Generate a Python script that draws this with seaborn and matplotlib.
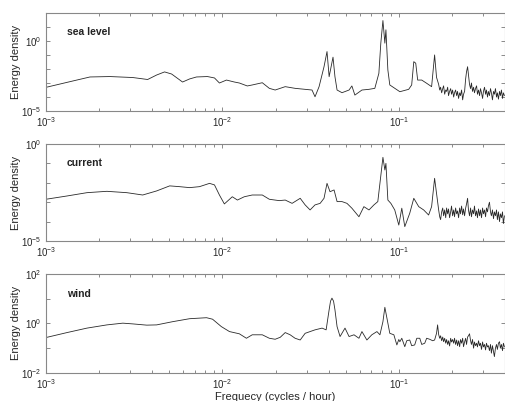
import numpy as np
import pandas as pd
import matplotlib
matplotlib.use("Agg")
import matplotlib.pyplot as plt
import matplotlib.ticker as mticker
import seaborn as sns

# values: log10 of frequency (cycles/hour) and log10 of energy density

# high-frequency tail, shared frequency grid for the three records
tail_logf = [-0.774, -0.768, -0.763, -0.757, -0.751, -0.746, -0.740, -0.734, -0.729, -0.723,
             -0.718, -0.712, -0.706, -0.701, -0.695, -0.689, -0.684, -0.678, -0.672, -0.667,
             -0.661, -0.655, -0.650, -0.644, -0.638, -0.633, -0.627, -0.621, -0.616, -0.610,
             -0.605, -0.599, -0.593, -0.588, -0.582, -0.576, -0.571, -0.565, -0.559, -0.554,
             -0.548, -0.542, -0.537, -0.531, -0.525, -0.520, -0.514, -0.508, -0.503, -0.497,
             -0.492, -0.486, -0.480, -0.475, -0.469, -0.463, -0.458, -0.452, -0.446, -0.441,
             -0.435, -0.429, -0.424, -0.418, -0.412, -0.407, -0.401]

sea_logf = [-2.994, -2.921, -2.836, -2.751, -2.638, -2.508, -2.424, -2.373, -2.328, -2.288,
            -2.226, -2.186, -2.147, -2.085, -2.045, -2.017, -1.977, -1.932, -1.904, -1.859,
            -1.831, -1.774, -1.734, -1.701, -1.644, -1.588, -1.531, -1.492, -1.475, -1.452,
            -1.424, -1.407, -1.395, -1.373, -1.362, -1.350, -1.322, -1.282, -1.266, -1.249,
            -1.209, -1.169, -1.136, -1.113, -1.102, -1.090, -1.079, -1.073, -1.062, -1.051,
            -1.023, -0.994, -0.944, -0.927, -0.915, -0.904, -0.893, -0.870, -0.842, -0.814,
            -0.797, -0.786]
sea_loge = [-3.29, -3.07, -2.82, -2.57, -2.54, -2.61, -2.75, -2.43, -2.21, -2.36,
            -2.93, -2.71, -2.57, -2.54, -2.64, -3.0, -2.79, -2.93, -3.0, -3.21,
            -3.14, -2.98, -3.38, -3.5, -3.26, -3.38, -3.45, -3.5, -3.98, -3.26,
            -1.84, -0.76, -2.55, -1.16, -2.55, -3.5, -3.69, -3.5, -3.21, -3.86,
            -3.5, -3.45, -3.38, -2.31, -0.16, 1.45, -0.16, 0.79, -2.07, -3.14,
            -3.38, -3.62, -3.45, -3.14, -1.48, -1.59, -2.79, -2.79, -3.02, -3.26,
            -1.0, -2.6]
sea_tail = [-3.1, -3.5, -3.3, -3.7, -3.4, -3.2, -3.8, -3.5, -3.6, -3.3,
            -3.9, -3.6, -3.4, -3.8, -3.5, -4.0, -3.7, -3.5, -3.9, -3.6,
            -4.1, -3.7, -3.9, -3.5, -4.2, -3.8, -3.6, -2.7, -2.2, -1.84,
            -2.4, -3.1, -3.4, -3.0, -3.6, -3.3, -3.7, -3.4, -3.2, -3.8,
            -3.5, -3.9, -3.4, -3.7, -4.1, -3.6, -3.3, -3.8, -3.5, -4.0,
            -3.6, -3.9, -3.4, -3.7, -4.2, -3.6, -3.8, -3.4, -4.0, -3.7,
            -4.15, -3.6, -3.9, -3.5, -4.1, -3.7, -3.9]

cur_logf = [-2.994, -2.881, -2.768, -2.655, -2.542, -2.452, -2.373, -2.299, -2.243, -2.186,
            -2.130, -2.073, -2.045, -2.017, -1.989, -1.944, -1.915, -1.876, -1.831, -1.774,
            -1.734, -1.678, -1.644, -1.605, -1.559, -1.531, -1.503, -1.475, -1.446, -1.424,
            -1.407, -1.390, -1.367, -1.350, -1.322, -1.294, -1.266, -1.226, -1.198, -1.169,
            -1.141, -1.119, -1.107, -1.090, -1.079, -1.073, -1.062, -1.045, -1.023, -1.000,
            -0.983, -0.966, -0.938, -0.915, -0.887, -0.859, -0.831, -0.814, -0.797]
cur_loge = [-2.84, -2.68, -2.51, -2.44, -2.51, -2.63, -2.42, -2.16, -2.20, -2.25,
            -2.20, -2.03, -2.11, -2.63, -3.09, -2.72, -2.89, -2.72, -2.63, -2.63,
            -2.85, -2.92, -2.89, -3.06, -2.80, -3.14, -3.40, -3.14, -3.06, -2.80,
            -2.03, -2.46, -2.37, -2.97, -2.97, -3.06, -3.31, -3.75, -3.23, -3.40,
            -3.14, -2.97, -2.03, -0.69, -1.34, -1.0, -2.89, -3.06, -3.40, -4.18,
            -3.31, -4.26, -3.57, -2.80, -3.23, -3.40, -3.66, -3.23, -1.77]
cur_tail = [-3.4, -3.75, -3.9, -3.5, -3.3, -3.7, -3.4, -3.8, -3.3, -3.6,
            -3.35, -3.8, -3.5, -3.2, -3.7, -3.4, -3.75, -3.3, -3.6, -3.45,
            -3.8, -3.3, -3.6, -3.2, -3.65, -3.35, -3.7, -3.3, -3.1, -2.8,
            -3.4, -3.7, -3.3, -3.75, -3.4, -3.6, -3.2, -3.7, -3.45, -3.8,
            -3.35, -3.7, -3.4, -3.8, -3.3, -3.6, -3.4, -3.75, -3.3, -3.5,
            -3.2, -3.0, -3.5, -3.7, -3.4, -3.85, -3.5, -3.7, -3.4, -3.9,
            -3.5, -4.0, -3.6, -3.8, -3.5, -4.1, -3.7]

wind_logf = [-2.994, -2.881, -2.768, -2.655, -2.565, -2.508, -2.429, -2.373, -2.282, -2.186,
             -2.090, -2.056, -2.006, -1.960, -1.904, -1.864, -1.831, -1.774, -1.734, -1.701,
             -1.672, -1.644, -1.616, -1.588, -1.559, -1.531, -1.503, -1.475, -1.435, -1.412,
             -1.395, -1.387, -1.379, -1.370, -1.362, -1.350, -1.333, -1.305, -1.282, -1.254,
             -1.226, -1.209, -1.181, -1.153, -1.124, -1.107, -1.090, -1.079, -1.062, -1.051,
             -1.028,
             -1.011, -1.000, -0.994, -0.983, -0.966, -0.955, -0.938, -0.927, -0.910, -0.898,
             -0.881, -0.870, -0.853, -0.842, -0.825, -0.808, -0.797, -0.786, -0.780]
wind_loge = [-0.56, -0.37, -0.19, -0.06, 0.01, -0.02, -0.07, -0.06, 0.07, 0.19,
             0.23, 0.17, -0.13, -0.33, -0.42, -0.60, -0.46, -0.46, -0.60, -0.64,
             -0.56, -0.37, -0.46, -0.60, -0.67, -0.40, -0.33, -0.26, -0.19, -0.26,
             0.55, 0.9, 1.02, 0.9, 0.55, -0.13, -0.53, -0.19, -0.53, -0.46,
             -0.60, -0.33, -0.67, -0.46, -0.33, -0.46, 0.07, 0.65, 0.01, -0.40,
             -0.46,
             -0.87, -0.65, -0.74, -0.6, -0.94, -0.7, -0.67, -0.9, -0.87, -0.6,
             -0.6, -0.85, -0.80, -0.6, -0.64, -0.7, -0.67, -0.4, -0.06]
wind_tail = [-0.45, -0.6, -0.5, -0.7, -0.55, -0.74, -0.6, -0.8, -0.65, -0.85,
             -0.7, -0.91, -0.6, -0.75, -0.65, -0.8, -0.6, -0.85, -0.67, -0.9,
             -0.7, -0.94, -0.65, -0.8, -0.6, -0.94, -0.75, -0.6, -0.85, -0.55,
             -0.5, -0.42, -0.7, -0.85, -0.65, -1.0, -0.75, -0.9, -0.8, -0.95,
             -0.7, -0.9, -0.8, -1.05, -0.75, -0.95, -0.85, -1.07, -0.8, -0.95,
             -0.9, -1.1, -0.85, -1.2, -0.9, -1.15, -1.34, -1.0, -0.85, -1.05,
             -0.8, -0.74, -1.0, -0.85, -1.1, -0.8, -0.95]

panel_names = ["sea level", "current", "wind"]
y_limits = [(-5, 2), (-5, 0), (-2, 2)]
y_labelled = [[-5, 0], [-5, 0], [-2, 0, 2]]

sns.set_style("ticks")
plt.rcParams["font.family"] = ["Liberation Sans", "DejaVu Sans"]
plt.rcParams["mathtext.default"] = "regular"

fig = plt.figure(figsize=(5.06, 4.01), dpi=100)
boxes = [[0.091, 0.723, 0.907, 0.245],
         [0.091, 0.399, 0.907, 0.242],
         [0.091, 0.070, 0.907, 0.247]]

series = [(sea_logf + tail_logf, sea_loge + sea_tail),
          (cur_logf + tail_logf, cur_loge + cur_tail),
          (wind_logf + tail_logf, wind_loge + wind_tail)]

for i, (lf, le) in enumerate(series):
    ax = fig.add_axes(boxes[i])
    df = pd.DataFrame({"freq": 10 ** np.array(lf), "energy": 10 ** np.array(le)})
    sns.lineplot(data=df, x="freq", y="energy", ax=ax, color="#2a2a2a",
                 lw=0.6, sort=False, estimator=None)
    ax.set_xscale("log")
    ax.set_yscale("log")
    ax.set_xlim(1e-3, 0.4)
    lo, hi = y_limits[i]
    ax.set_ylim(10.0 ** lo, 10.0 ** hi)

    ax.yaxis.set_major_locator(mticker.FixedLocator([10.0 ** k for k in range(lo, hi + 1)]))
    ax.yaxis.set_minor_locator(mticker.NullLocator())
    labs = y_labelled[i]
    ax.yaxis.set_major_formatter(mticker.FuncFormatter(
        lambda v, p, labs=labs: "$10^{%d}$" % round(np.log10(v)) if round(np.log10(v)) in labs else ""))
    ax.xaxis.set_major_locator(mticker.FixedLocator([1e-3, 1e-2, 1e-1]))
    ax.xaxis.set_minor_locator(mticker.LogLocator(base=10, subs=np.arange(2, 10), numticks=20))
    ax.xaxis.set_major_formatter(mticker.FuncFormatter(lambda v, p: "$10^{%d}$" % round(np.log10(v))))
    ax.xaxis.set_minor_formatter(mticker.NullFormatter())

    ax.tick_params(which="both", direction="in", top=True, right=True,
                   labelsize=7, color="#777777", width=0.6, pad=3)
    ax.tick_params(which="major", length=3)
    ax.tick_params(which="minor", length=2)
    for s in ax.spines.values():
        s.set_color("#888888")
        s.set_linewidth(0.8)

    ax.set_ylabel("Energy density", fontsize=8)
    ax.yaxis.set_label_coords(-0.055, 0.5)
    ax.set_xlabel("")
    ax.text(0.045, 0.80, panel_names[i], transform=ax.transAxes,
            fontsize=7.5, fontweight="bold", color="#222222", va="center")
    if i == 2:
        ax.set_xlabel("Frequecy (cycles / hour)", fontsize=8, labelpad=1)

fig.savefig("out.png", dpi=100)
